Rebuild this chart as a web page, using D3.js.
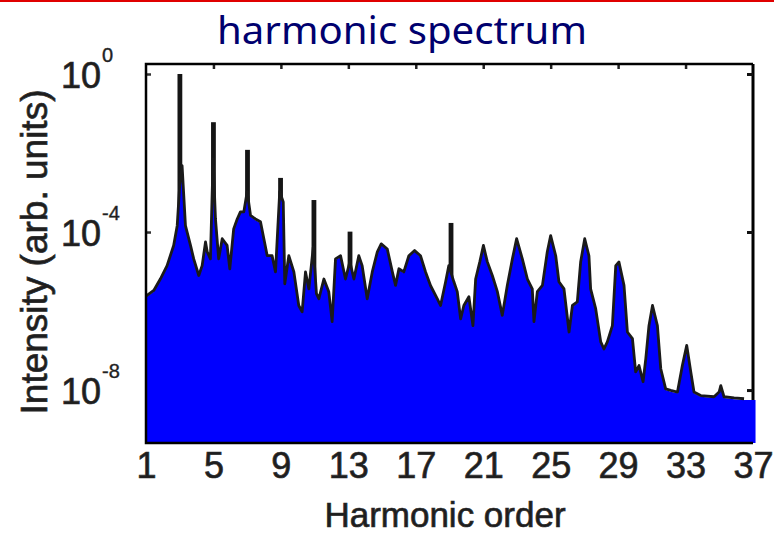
<!DOCTYPE html>
<html>
<head>
<meta charset="utf-8">
<title>harmonic spectrum</title>
<style>
  body, html { margin:0; padding:0; background:#fff; }
  svg { display:block; }
  .lbl { font-family: "Liberation Sans", Arial, sans-serif; fill:#1e1e1e; stroke:#2a2a2a; stroke-width:0.7px; }
</style>
<script src="https://cdn.jsdelivr.net/npm/d3@7"></script>
</head>
<body>
<svg id="chart" width="774" height="533"></svg>
<script>
// blue trace: harmonic order and log10 of intensity
var orders = [1.00,1.46,1.85,2.25,2.64,2.85,3.00,3.14,3.34,3.64,3.83,4.13,4.33,4.53,4.63,4.82,4.98,5.12,5.31,5.52,
  5.81,5.97,6.20,6.41,6.60,6.80,7.00,7.20,7.49,7.79,7.99,8.19,8.48,8.68,8.93,9.14,9.23,9.47,9.77,10.06,
  10.26,10.46,10.66,10.92,11.11,11.25,11.55,11.84,12.04,12.24,12.54,12.83,13.09,13.33,13.62,13.82,14.12,14.42,14.72,14.95,
  15.31,15.61,15.80,16.00,16.29,16.59,16.93,17.28,17.58,17.88,18.28,18.47,18.77,18.96,19.26,19.46,19.66,19.85,20.15,20.39,
  20.55,20.80,21.01,21.24,21.54,21.84,22.13,22.43,22.73,22.98,23.32,23.62,23.91,24.01,24.21,24.51,24.80,25.00,25.30,25.49,
  25.79,26.09,26.29,26.58,26.78,27.02,27.27,27.37,27.67,27.97,28.16,28.36,28.66,28.86,29.05,29.35,29.55,29.85,30.04,30.24,
  30.48,30.64,30.83,31.04,31.33,31.53,31.82,32.12,32.52,32.81,33.07,33.31,33.50,33.90,34.69,34.99,35.09,35.28,35.88,36.47,37.15];
var logIntensity = [-5.65,-5.51,-5.22,-4.88,-4.37,-3.87,-2.85,-2.35,-3.87,-4.37,-4.71,-5.13,-4.88,-4.28,-4.53,-4.71,-2.18,-3.70,-4.71,-4.20,
  -4.37,-4.96,-3.95,-3.70,-3.52,-3.52,-3.01,-3.61,-3.70,-3.77,-4.20,-4.63,-4.63,-5.04,-3.01,-3.27,-5.34,-4.63,-5.04,-5.89,
  -6.05,-5.04,-5.47,-4.41,-5.59,-5.72,-5.22,-5.54,-6.30,-4.71,-4.63,-5.22,-4.78,-5.22,-4.63,-4.88,-5.72,-5.04,-4.53,-4.33,
  -4.46,-5.04,-5.38,-4.96,-5.04,-4.63,-4.50,-4.63,-5.04,-5.39,-5.72,-5.89,-5.29,-4.88,-5.29,-5.54,-6.23,-5.89,-5.67,-6.40,
  -5.22,-4.78,-4.37,-4.78,-5.13,-5.54,-6.14,-5.38,-4.71,-4.20,-4.71,-5.22,-5.47,-6.30,-5.54,-5.38,-4.53,-4.12,-4.63,-5.29,
  -5.47,-6.56,-5.89,-5.80,-4.78,-4.20,-4.63,-5.47,-5.97,-6.81,-6.99,-6.81,-6.40,-4.88,-4.79,-5.38,-6.56,-6.73,-7.57,-7.41,
  -7.82,-7.24,-6.40,-5.89,-6.40,-7.49,-8.00,-8.04,-8.08,-7.41,-6.90,-7.57,-8.08,-8.17,-8.20,-8.08,-7.92,-8.20,-8.23,-8.25,-8.25];

// black spikes of the second trace that stand above the blue one
var spikeOrders = [3.01, 5.00, 7.02, 8.98, 10.96, 13.10, 19.09];
var spikeTops   = [0.00, -1.22, -1.92, -2.63, -3.19, -3.99, -3.77];

var xTicks = [1, 5, 9, 13, 17, 21, 25, 29, 33, 37];
var topTicks = [5, 9, 13, 17, 21, 25, 29, 33];
var yExponents = [0, -4, -8];

var svg = d3.select('#chart');
var pLeft = 146, pRight = 753, pTop = 64, pBottom = 443;

var x = d3.scaleLinear().domain([1, 37]).range([pLeft, pRight]);
var y = d3.scaleLog().domain([Math.pow(10, -9.34), Math.pow(10, 0.253)]).range([pBottom, pTop]);

var data = orders.map(function(h, i) { return { h: h, v: Math.pow(10, logIntensity[i]) }; });
var spikes = spikeOrders.map(function(h, i) { return { h: h, v: Math.pow(10, spikeTops[i]) }; });

svg.append('rect').attr('width', 774).attr('height', 533).attr('fill', '#fff');

// red rule across the top
svg.append('line').attr('x1', 0).attr('x2', 774).attr('y1', 1).attr('y2', 1)
  .attr('stroke', '#e00000').attr('stroke-width', 2);

// title
svg.append('text')
  .attr('x', 402).attr('y', 44)
  .attr('text-anchor', 'middle')
  .attr('textLength', 370).attr('lengthAdjust', 'spacingAndGlyphs')
  .style('font-family', '"Noto Sans", "DejaVu Sans", sans-serif')
  .style('font-size', '38px')
  .style('fill', '#00006e')
  .text('harmonic spectrum');

// right border sits under the fill
svg.append('line').attr('x1', pRight).attr('x2', pRight).attr('y1', pTop).attr('y2', pBottom)
  .attr('stroke', '#000').attr('stroke-width', 3);

// inner ticks
svg.append('g').attr('transform', 'translate(0,' + pTop + ')')
  .call(d3.axisTop(x).tickValues(topTicks).tickSize(-5).tickFormat(''))
  .call(function(g) { g.select('.domain').remove(); g.selectAll('line').attr('stroke', '#222').attr('stroke-width', 2.5); });

var yTickVals = yExponents.map(function(e) { return Math.pow(10, e); });
svg.append('g').attr('transform', 'translate(' + pLeft + ',0)')
  .call(d3.axisLeft(y).tickValues(yTickVals).tickSize(-5).tickFormat(''))
  .call(function(g) { g.select('.domain').remove(); g.selectAll('line').attr('stroke', '#333').attr('stroke-width', 2.5); });

svg.append('g').attr('transform', 'translate(' + pRight + ',0)')
  .call(d3.axisRight(y).tickValues(yTickVals).tickSize(-6).tickFormat(''))
  .call(function(g) { g.select('.domain').remove(); g.selectAll('line').attr('stroke', '#111').attr('stroke-width', 3); });

// spikes of the black trace
svg.append('g').selectAll('rect').data(spikes).enter().append('rect')
  .attr('x', function(d) { return x(d.h) - 2.4; })
  .attr('width', 4.8)
  .attr('y', function(d) { return y(d.v); })
  .attr('height', function(d) { return y(1e-6) - y(d.v); })
  .attr('fill', '#151515');

// blue fill
var area = d3.area()
  .x(function(d) { return x(d.h); })
  .y0(pBottom)
  .y1(function(d) { return y(d.v); });

svg.append('path').datum(data)
  .attr('d', area)
  .attr('fill', '#0000ff');

// black outline
var line = d3.line()
  .x(function(d) { return x(d.h); })
  .y(function(d) { return y(d.v); });

svg.append('path').datum(data.filter(function(d) { return d.h <= 37; }))
  .attr('d', line)
  .attr('transform', 'translate(0,-1.2)')
  .attr('fill', 'none')
  .attr('stroke', '#1a1a1a')
  .attr('stroke-width', 2.8)
  .attr('stroke-linejoin', 'round');

// left, top and bottom frame
svg.append('path')
  .attr('d', 'M' + pRight + ',' + pTop + 'H' + pLeft + 'V' + pBottom + 'H' + pRight)
  .attr('fill', 'none').attr('stroke', '#000').attr('stroke-width', 2.5);

// x tick labels
svg.append('g').attr('transform', 'translate(0,' + pBottom + ')')
  .call(d3.axisBottom(x).tickValues(xTicks).tickSize(0).tickPadding(9).tickFormat(d3.format('d')))
  .call(function(g) {
    g.select('.domain').remove();
    g.selectAll('text').attr('class', 'lbl').style('font-size', '36px');
  });

// y tick labels with superscripts
var yl = svg.append('g');
yExponents.forEach(function(e) {
  yl.append('text').attr('class', 'lbl')
    .attr('x', 101).attr('y', y(Math.pow(10, e)) + 14)
    .attr('text-anchor', 'end')
    .style('font-size', '36px')
    .text('10');
  yl.append('text').attr('class', 'lbl')
    .attr('x', 102).attr('y', y(Math.pow(10, e)) - 12)
    .style('font-size', '20px')
    .style('stroke-width', '0.4px')
    .text(String(e));
});

// axis titles
svg.append('text').attr('class', 'lbl')
  .attr('x', 445).attr('y', 527)
  .attr('text-anchor', 'middle')
  .style('font-size', '35px')
  .text('Harmonic order');

svg.append('text').attr('class', 'lbl')
  .attr('transform', 'translate(47,252) rotate(-90)')
  .attr('text-anchor', 'middle')
  .style('font-size', '37px')
  .text('Intensity (arb. units)');
</script>
</body>
</html>
